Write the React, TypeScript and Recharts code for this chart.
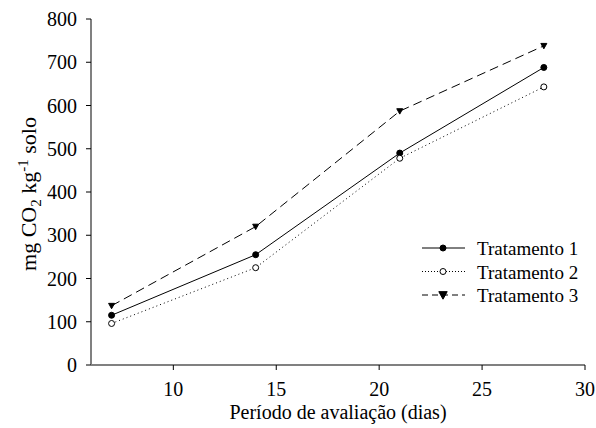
import { LineChart, Line, XAxis, YAxis, Label } from 'recharts';

const dias = [7, 14, 21, 28];
const tratamento1 = [115, 255, 490, 688];
const tratamento2 = [96, 225, 478, 643];
const tratamento3 = [137, 320, 587, 738];
const xTicks = [10, 15, 20, 25, 30];
const yTicks = [0, 100, 200, 300, 400, 500, 600, 700, 800];

const data = dias.map((d, i) => ({
  dia: d,
  t1: tratamento1[i],
  t2: tratamento2[i],
  t3: tratamento3[i],
}));

const FONT = '"Liberation Serif", "Times New Roman", serif';

const FilledDot = (props: any) => {
  const { cx, cy, r = 3.7 } = props;
  if (cx == null || cy == null) return null;
  return <circle cx={cx} cy={cy} r={r} fill="#000" stroke="#000" strokeWidth={1} />;
};

const OpenDot = (props: any) => {
  const { cx, cy, r = 3.5 } = props;
  if (cx == null || cy == null) return null;
  return <circle cx={cx} cy={cy} r={r} fill="#fff" stroke="#000" strokeWidth={1} />;
};

const TriDot = (props: any) => {
  const { cx, cy, r = 5 } = props;
  if (cx == null || cy == null) return null;
  return (
    <polygon
      points={`${cx - r},${cy - r * 0.8} ${cx + r},${cy - r * 0.8} ${cx},${cy + r}`}
      fill="#000"
      stroke="#000"
    />
  );
};

const legendItems = [
  { label: 'Tratamento 1', dash: undefined, Dot: FilledDot, r: 3 },
  { label: 'Tratamento 2', dash: '1 2', Dot: OpenDot, r: 3 },
  { label: 'Tratamento 3', dash: '6 4', Dot: TriDot, r: 4.2 },
];

const LegendBox = () => (
  <svg
    width={175}
    height={70}
    style={{ position: 'absolute', left: 420, top: 236, overflow: 'visible' }}
  >
    {legendItems.map((item, i) => {
      const y = 12 + i * 23.5;
      return (
        <g key={item.label}>
          <line x1={2} y1={y} x2={45} y2={y} stroke="#000" strokeWidth={1} strokeDasharray={item.dash} />
          <item.Dot cx={23} cy={y} r={item.r} />
          <text x={57} y={y + 7} fontFamily={FONT} fontSize={19} fill="#000">
            {item.label}
          </text>
        </g>
      );
    })}
  </svg>
);

const Tick = (props: any) => {
  const { x, y, payload, textAnchor, axis } = props;
  return (
    <text
      x={x}
      y={y}
      textAnchor={textAnchor}
      dy={axis === 'x' ? 20 : 7}
      fontFamily={FONT}
      fontSize={20}
      fill="#000"
    >
      {payload.value}
    </text>
  );
};

const XLabel = () => (
  <text x={338} y={419} textAnchor="middle" fontFamily={FONT} fontSize={20} fill="#000">
    Período de avaliação (dias)
  </text>
);

const YLabel = () => {
  const cx = 36;
  const cy = 194;
  return (
    <text
      transform={`rotate(-90 ${cx} ${cy})`}
      x={cx}
      y={cy}
      textAnchor="middle"
      fontFamily={FONT}
      fontSize={22}
      fill="#000"
    >
      mg CO
      <tspan fontSize={15} dy={5}>2</tspan>
      <tspan dy={-5}> kg</tspan>
      <tspan fontSize={15} dy={-8}>-1</tspan>
      <tspan dy={8}> solo</tspan>
    </text>
  );
};

export default function App() {
  return (
    <div
      style={{
        position: 'absolute',
        left: 0,
        top: 0,
        width: 596,
        height: 428,
        background: '#fff',
        fontFamily: FONT,
      }}
    >
      <LineChart width={596} height={428} data={data} margin={{ top: 19, right: 11, bottom: 0, left: 0 }}>
        <XAxis
          dataKey="dia"
          type="number"
          domain={[6, 30]}
          ticks={xTicks}
          height={63}
          axisLine={{ stroke: '#808080', strokeWidth: 2 }}
          tickLine={{ stroke: '#000' }}
          tickSize={5}
          tick={<Tick axis="x" />}
          tickMargin={6}
        >
          <Label content={<XLabel />} />
        </XAxis>
        <YAxis
          type="number"
          domain={[0, 800]}
          ticks={yTicks}
          width={91}
          axisLine={{ stroke: '#808080', strokeWidth: 2 }}
          tickLine={{ stroke: '#000' }}
          tickSize={5}
          tick={<Tick axis="y" />}
          tickMargin={9}
        >
          <Label content={<YLabel />} />
        </YAxis>
        <Line
          dataKey="t1"
          stroke="#000"
          strokeWidth={1}
          dot={<FilledDot />}
          isAnimationActive={false}
        />
        <Line
          dataKey="t2"
          stroke="#000"
          strokeWidth={1}
          strokeDasharray="1 3"
          dot={<OpenDot />}
          isAnimationActive={false}
        />
        <Line
          dataKey="t3"
          stroke="#000"
          strokeWidth={1}
          strokeDasharray="9 5"
          dot={<TriDot />}
          isAnimationActive={false}
        />
      </LineChart>
      <LegendBox />
    </div>
  );
}
